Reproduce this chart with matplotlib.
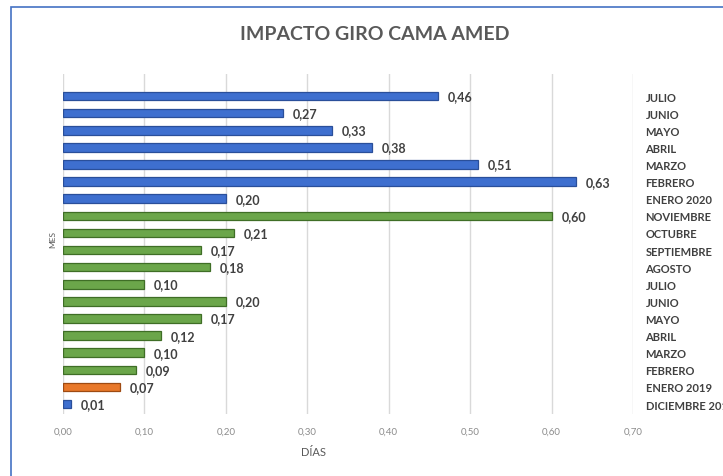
import matplotlib
matplotlib.use('Agg')
import matplotlib.pyplot as plt
from matplotlib.patches import Rectangle

plt.rcParams['font.family'] = ['Lato', 'DejaVu Sans']

# Data, top to bottom as in the chart
meses = ['JULIO', 'JUNIO', 'MAYO', 'ABRIL', 'MARZO', 'FEBRERO', 'ENERO 2020',
         'NOVIEMBRE', 'OCTUBRE', 'SEPTIEMBRE', 'AGOSTO', 'JULIO', 'JUNIO',
         'MAYO', 'ABRIL', 'MARZO', 'FEBRERO', 'ENERO 2019', 'DICIEMBRE 2018']
dias = [0.46, 0.27, 0.33, 0.38, 0.51, 0.63, 0.20,
        0.60, 0.21, 0.17, 0.18, 0.10, 0.20,
        0.17, 0.12, 0.10, 0.09, 0.07, 0.01]
grupo = ['2020'] * 7 + ['2019'] * 10 + ['ene2019', '2020']

colores = {'2020': ('#3E6FCF', '#2A4F9A'),
           '2019': ('#6BA64A', '#3F6E26'),
           'ene2019': ('#E8782A', '#9E4A12')}

fig = plt.figure(figsize=(7.23, 4.77), dpi=100)
ax = fig.add_axes([63 / 723, 1 - 415 / 477, 570 / 723, 340 / 477])

n = len(meses)
ypos = [n - 1 - i for i in range(n)]
for y, v, g in zip(ypos, dias, grupo):
    fc, ec = colores[g]
    ax.barh(y, v, height=0.5, color=fc, edgecolor=ec, linewidth=0.9, zorder=3)
    ax.annotate(f'{v:.2f}'.replace('.', ','), (v, y), xytext=(7, 0),
                textcoords='offset points', va='center', ha='left',
                fontsize=9, fontweight='bold', color='#404040')

ax.set_xlim(0, 0.70)
ax.set_ylim(-0.58, n - 1 + 1.29)
xt = [i / 10 for i in range(8)]
ax.set_xticks(xt)
ax.set_xticklabels([f'{t:.2f}'.replace('.', ',') for t in xt],
                   fontsize=7, color='#8C8C8C')
ax.tick_params(axis='x', length=0, pad=9)
ax.grid(axis='x', color='#D9D9D9', linewidth=1, zorder=0)

ax.yaxis.tick_right()
ax.set_yticks(ypos)
ax.set_yticklabels(meses, fontsize=8, fontweight='bold', color='#404040')
ax.tick_params(axis='y', length=0, pad=9)

for s in ax.spines.values():
    s.set_visible(False)

fig.text(375 / 723, 1 - 35 / 477, 'IMPACTO GIRO CAMA AMED', ha='center',
         va='center', fontsize=14, fontweight='bold', color='#595959')
fig.text(314 / 723, 1 - 453 / 477, 'DÍAS', ha='center', va='center',
         fontsize=8, color='#595959')
fig.text(53 / 723, 1 - 240 / 477, 'MES', ha='center', va='center',
         fontsize=6, color='#595959', rotation=90)

fig.patches.append(Rectangle((11 / 723, -0.1), 1.2, 1 - 8 / 477 + 0.1,
                             transform=fig.transFigure, fill=False,
                             edgecolor='#4472C4', linewidth=1.2))

fig.savefig('out.png', dpi=100)
